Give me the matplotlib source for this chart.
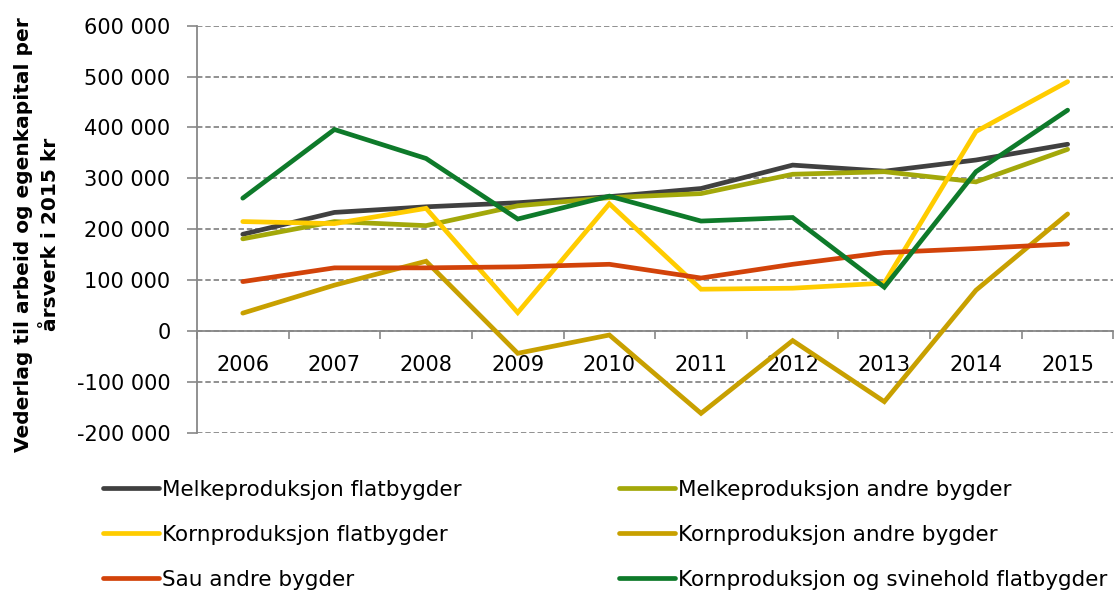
from matplotlib import pyplot as plt
from matplotlib.ticker import FuncFormatter, FixedLocator
import numpy as np

plt.rcParams['font.family'] = ['DejaVu Sans']

# data
years = ['2006', '2007', '2008', '2009', '2010', '2011', '2012', '2013', '2014', '2015']
melk_flat = [190000, 233000, 244000, 252000, 264000, 280000, 326000, 314000, 336000, 367000]
melk_andre = [181000, 215000, 207000, 246000, 262000, 270000, 308000, 313000, 293000, 357000]
korn_flat = [215000, 211000, 241000, 36000, 250000, 82000, 84000, 94000, 392000, 490000]
korn_andre = [35000, 90000, 137000, -44000, -8000, -162000, -19000, -139000, 80000, 230000]
sau_andre = [97000, 124000, 124000, 126000, 131000, 104000, 131000, 154000, 162000, 171000]
korn_svin = [261000, 396000, 339000, 220000, 265000, 216000, 223000, 86000, 313000, 434000]

series = [
    ('Melkeproduksjon flatbygder', melk_flat, '#404040'),
    ('Melkeproduksjon andre bygder', melk_andre, '#a3a80a'),
    ('Kornproduksjon flatbygder', korn_flat, '#ffcc00'),
    ('Kornproduksjon andre bygder', korn_andre, '#c8a000'),
    ('Sau andre bygder', sau_andre, '#d2430a'),
    ('Kornproduksjon og svinehold flatbygder', korn_svin, '#0e7a2a'),
]

fig = plt.figure(figsize=(11.14, 5.94), dpi=100)
ax = fig.add_axes([0.1768, 0.2716, 0.8227, 0.6851])

x = np.arange(len(years))
handles = {}
for name, vals, col in series:
    ln, = ax.plot(x, vals, color=col, lw=3.4, solid_capstyle='round',
                  solid_joinstyle='miter', zorder=3, label=name)
    handles[name] = ln

ax.set_xlim(-0.5, len(years) - 0.5)
ax.set_ylim(-200000, 600000)
ax.set_yticks(np.arange(-200000, 600001, 100000))
ax.yaxis.set_major_formatter(FuncFormatter(lambda v, p: f'{int(v):,}'.replace(',', ' ')))

# category ticks at boundaries, labels in the middle
ax.xaxis.set_major_locator(FixedLocator(np.arange(-0.5, len(years), 1.0)))
ax.xaxis.set_minor_locator(FixedLocator(x))
ax.set_xticklabels([], minor=False)
ax.set_xticks(x, years, minor=True)
ax.tick_params(axis='x', which='major', length=6, width=1.2, color='#888888', direction='out')
ax.tick_params(axis='x', which='minor', length=0, pad=17, labelsize=15)
ax.tick_params(axis='y', length=7, width=1.2, color='#888888', pad=12, labelsize=15)

ax.grid(axis='y', color='#888888', linestyle=(0, (3, 1.6)), lw=1.3)
ax.set_axisbelow(True)
for s in ['top', 'right']:
    ax.spines[s].set_visible(False)
ax.spines['bottom'].set_position(('data', 0))
for s in ['left', 'bottom']:
    ax.spines[s].set_color('#888888')
    ax.spines[s].set_linewidth(1.3)

fig.text(0.033, 0.605, 'Vederlag til arbeid og egenkapital per\nårsverk i 2015 kr',
         rotation=90, ha='center', va='center', fontsize=14.5, fontweight='bold',
         linespacing=1.55, multialignment='center')

# legend in two columns
left_names = ['Melkeproduksjon flatbygder', 'Kornproduksjon flatbygder', 'Sau andre bygder']
right_names = ['Melkeproduksjon andre bygder', 'Kornproduksjon andre bygder',
               'Kornproduksjon og svinehold flatbygder']
for names, xpos in [(left_names, 0.0925), (right_names, 0.5557)]:
    fig.legend([handles[n] for n in names], names, loc='upper left',
               bbox_to_anchor=(xpos, 0.192), frameon=False, fontsize=15.5,
               handlelength=2.6, handletextpad=0.15, labelspacing=1.16,
               borderpad=0, borderaxespad=0)

fig.savefig('out.png', dpi=100)
